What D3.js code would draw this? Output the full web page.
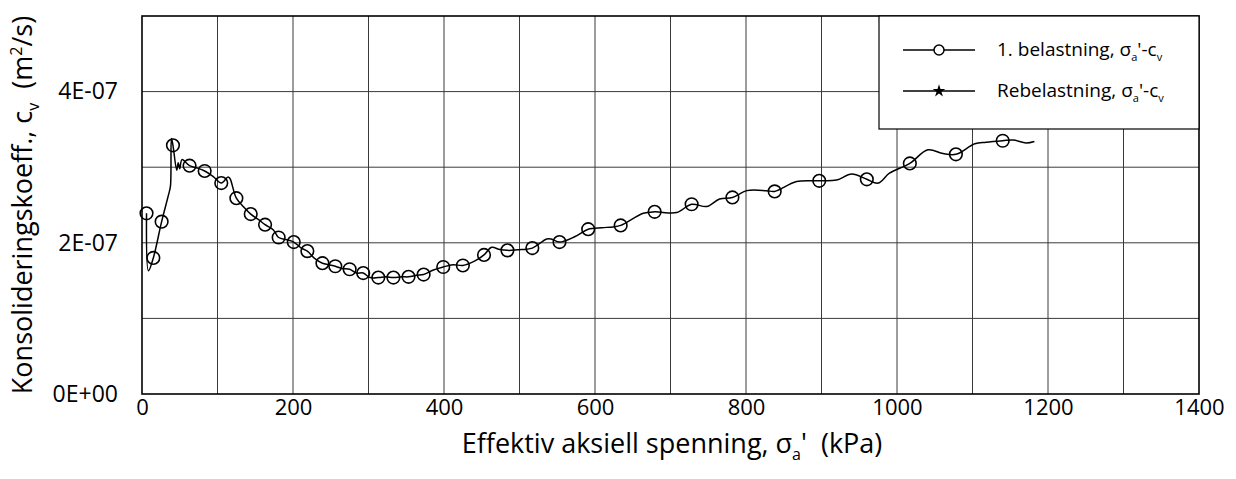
<!DOCTYPE html>
<html>
<head>
<meta charset="utf-8">
<script src="https://cdn.jsdelivr.net/npm/d3@7"></script>
<style>
  body { margin: 0; background: #fff; }
  svg { display: block; font-family: "Open Sans", Lato, sans-serif; }
  text { white-space: pre; }
</style>
</head>
<body>
<div id="chart"></div>
<script>
// stress (kPa) and cv (m2/s) at the circle markers, 1. belastning
const markerStress = [6, 15, 26, 41, 63, 83, 105, 125, 144, 163, 181, 201, 219, 239, 256, 275, 293, 313,
  333, 353, 373, 399, 425, 453, 484, 517, 553, 591, 634, 679, 728, 782, 838, 897, 960, 1017, 1078, 1140];
const markerCv = [2.39, 1.80, 2.28, 3.29, 3.02, 2.95, 2.79, 2.59, 2.38, 2.24, 2.07, 2.01, 1.89, 1.73, 1.69,
  1.65, 1.60, 1.54, 1.54, 1.55, 1.58, 1.68, 1.70, 1.84, 1.90, 1.93, 2.01, 2.18, 2.23, 2.41, 2.51, 2.60,
  2.68, 2.82, 2.84, 3.05, 3.17, 3.35].map(d => d * 1e-7);

// the full measured curve (line only)
const lineStress = [6, 8.6, 15, 26, 35, 37.7, 39, 41, 46, 48, 50, 53, 63, 73, 83, 94, 105, 114, 116.5, 125,
  135, 144, 154, 163, 174, 181, 192, 201, 211, 219, 229, 239, 247, 256, 265, 275, 284, 293, 302, 313,
  323, 333, 344, 353, 364, 373, 386, 399, 412, 425, 441, 453, 463, 474, 484, 503, 517, 536, 542, 553,
  573, 591, 609, 624, 634, 664, 679, 708, 728, 748, 765, 782, 801, 827, 838, 867, 897, 920, 940, 960,
  975, 990, 1017, 1041, 1061, 1078, 1103, 1118, 1140, 1154, 1171, 1182];
const lineCv = [2.39, 1.63, 1.80, 2.28, 2.63, 2.75, 3.38, 3.29, 2.96, 3.06, 2.98, 3.10, 3.02, 2.99, 2.95,
  2.88, 2.79, 2.87, 2.85, 2.59, 2.47, 2.38, 2.31, 2.24, 2.17, 2.07, 2.04, 2.01, 1.93, 1.89, 1.79, 1.73,
  1.71, 1.69, 1.66, 1.65, 1.60, 1.60, 1.54, 1.54, 1.55, 1.54, 1.55, 1.55, 1.57, 1.58, 1.64, 1.68, 1.71,
  1.70, 1.76, 1.84, 1.94, 1.91, 1.90, 1.91, 1.93, 2.05, 2.05, 2.01, 2.08, 2.18, 2.20, 2.21, 2.23, 2.39,
  2.41, 2.40, 2.51, 2.48, 2.58, 2.60, 2.69, 2.69, 2.68, 2.81, 2.82, 2.83, 2.91, 2.84, 2.79, 2.92, 3.05,
  3.23, 3.18, 3.17, 3.31, 3.33, 3.35, 3.36, 3.32, 3.34].map(d => d * 1e-7);

// Rebelastning series has no points in this test
const reloadStress = [];
const reloadCv = [];

const xTicks = [0, 200, 400, 600, 800, 1000, 1200, 1400];
const yTicks = [0, 2e-7, 4e-7];
const yTickLabels = ["0E+00", "2E-07", "4E-07"];

// set the dimensions and margins of the graph
const W = 1236, H = 479;
const margin = { top: 16, right: 37, bottom: 85, left: 142 },
  width = W - margin.left - margin.right,
  height = H - margin.top - margin.bottom;

const svg = d3.select("#chart").append("svg")
  .attr("width", W).attr("height", H);
const g = svg.append("g").attr("transform", `translate(${margin.left},${margin.top})`);

const x = d3.scaleLinear().domain([0, 1400]).range([0, width]);
const y = d3.scaleLinear().domain([0, 5e-7]).range([height, 0]);

// grid
g.append("g").selectAll("line").data(d3.range(100, 1400, 100)).join("line")
  .attr("x1", d => x(d)).attr("x2", d => x(d)).attr("y1", 0).attr("y2", height)
  .attr("stroke", "#3a3a3a").attr("stroke-width", 1);
g.append("g").selectAll("line").data(d3.range(1, 5).map(d => d * 1e-7)).join("line")
  .attr("y1", d => y(d)).attr("y2", d => y(d)).attr("x1", 0).attr("x2", width)
  .attr("stroke", "#3a3a3a").attr("stroke-width", 1);

// axes (labels only, frame drawn below)
const xAxis = g.append("g").attr("transform", `translate(0,${height})`)
  .call(d3.axisBottom(x).tickValues(xTicks).tickSize(0).tickPadding(5).tickFormat(d3.format("d")));
xAxis.select(".domain").remove();
xAxis.selectAll("text").attr("font-size", "22px").attr("fill", "#000").attr("font-family", "Open Sans");

const yAxis = g.append("g")
  .call(d3.axisLeft(y).tickValues(yTicks).tickSize(0).tickPadding(24)
    .tickFormat((d, i) => yTickLabels[i]));
yAxis.select(".domain").remove();
yAxis.selectAll("text").attr("font-size", "23px").attr("fill", "#000").attr("font-family", "Open Sans");

// plot frame
g.append("rect").attr("width", width).attr("height", height)
  .attr("fill", "none").attr("stroke", "#000").attr("stroke-width", 1.6);

// the curve
const pts = lineStress.map((s, i) => [s, lineCv[i]]);
g.append("path").datum(pts)
  .attr("fill", "none").attr("stroke", "#000").attr("stroke-width", 1.5)
  .attr("d", d3.line().x(d => x(d[0])).y(d => y(d[1])).curve(d3.curveCatmullRom.alpha(0.5)));

g.append("g").selectAll("circle").data(markerStress).join("circle")
  .attr("cx", d => x(d)).attr("cy", (d, i) => y(markerCv[i])).attr("r", 6.3)
  .attr("fill", "none").attr("stroke", "#000").attr("stroke-width", 1.6);

g.append("g").selectAll("path").data(reloadStress).join("path")
  .attr("transform", (d, i) => `translate(${x(d)},${y(reloadCv[i])})`)
  .attr("d", d3.symbol(d3.symbolStar, 45)());

// legend
const lg = svg.append("g").attr("transform", "translate(879,16)");
lg.append("rect").attr("width", 320).attr("height", 113)
  .attr("fill", "#fff").attr("stroke", "#000").attr("stroke-width", 1.2);
const entries = [
  { main: "1. belastning, σ", sym: "circle", y: 34 },
  { main: "Rebelastning, σ", sym: "star", y: 75 }
];
entries.forEach(e => {
  lg.append("line").attr("x1", 24).attr("x2", 96).attr("y1", e.y).attr("y2", e.y)
    .attr("stroke", "#000").attr("stroke-width", 1.3);
  if (e.sym === "circle") {
    lg.append("circle").attr("cx", 60).attr("cy", e.y).attr("r", 5)
      .attr("fill", "#fff").attr("stroke", "#000").attr("stroke-width", 1.5);
  } else {
    lg.append("path").attr("transform", `translate(60,${e.y})`)
      .attr("d", d3.symbol(d3.symbolStar, 50)());
  }
  const t = lg.append("text").attr("x", 118).attr("y", e.y + 6).attr("font-size", "19px");
  t.append("tspan").text(e.main);
  t.append("tspan").attr("font-size", "11px").attr("dy", 5).text("a");
  t.append("tspan").attr("dy", -5).text("'-c");
  t.append("tspan").attr("font-size", "11px").attr("dy", 5).text("v");
});

// axis titles
const xt = svg.append("text").attr("x", 672).attr("y", 453)
  .attr("text-anchor", "middle").attr("font-size", "27px");
xt.append("tspan").text("Effektiv aksiell spenning, σ");
xt.append("tspan").attr("font-size", "16px").attr("dy", 7).text("a");
xt.append("tspan").attr("dy", -7).text("'  (kPa)");

const yt = svg.append("text").attr("transform", "translate(32,205) rotate(-90)")
  .attr("text-anchor", "middle").attr("font-size", "27px");
yt.append("tspan").text("Konsolideringskoeff., c");
yt.append("tspan").attr("font-size", "16px").attr("dy", 7).text("v");
yt.append("tspan").attr("dy", -7).text("  (m");
yt.append("tspan").attr("font-size", "16px").attr("dy", -10).text("2");
yt.append("tspan").attr("dy", 10).text("/s)");
</script>
</body>
</html>
